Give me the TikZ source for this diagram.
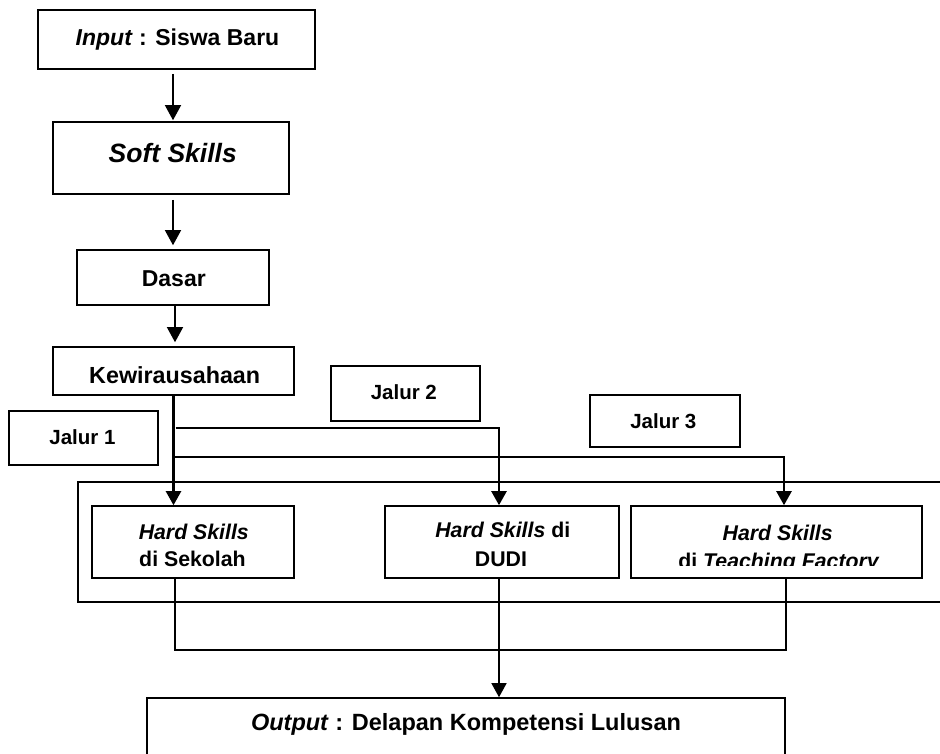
\documentclass[tikz,border=0pt]{standalone}
\usepackage{fontspec}
\setmainfont{Liberation Sans}
\usetikzlibrary{arrows.meta}
\begin{document}
\begin{tikzpicture}[x=1pt,y=-1pt,
  box/.style={draw, line width=1.6pt, inner sep=0pt},
  bigframe/.style={draw, line width=2.2pt, inner sep=0pt},
  thinline/.style={line width=1.4pt},
  thickline/.style={line width=2.3pt},
  tip/.style={-{Triangle[width=16pt,length=15pt]}},
  smalltip/.style={-{Triangle[width=15pt,length=14pt]}},
  txt/.style={inner sep=0pt, anchor=base},
  fa/.style={font=\fontsize{23}{27}\selectfont\bfseries},
  fsoft/.style={font=\fontsize{26.5}{30}\selectfont\bfseries},
  fk/.style={font=\fontsize{23.3}{27}\selectfont\bfseries},
  fj/.style={font=\fontsize{20.5}{24}\selectfont\bfseries},
  fh/.style={font=\fontsize{21.3}{25}\selectfont\bfseries},
  fo/.style={font=\fontsize{23.5}{27}\selectfont\bfseries}]
\useasboundingbox (0,0) rectangle (940,753);

% frame around the three hard-skills boxes
\node[bigframe, minimum width=882pt, minimum height=120pt] (frame) at (519,542) {};

% boxes
\node[box, minimum width=277pt, minimum height=59pt] (input) at (176.5,39.5) {};
\node[box, minimum width=236pt, minimum height=72pt] (soft) at (171,158) {};
\node[box, minimum width=192pt, minimum height=55pt] (dasar) at (173,277.5) {};
\node[box, minimum width=241pt, minimum height=48pt] (kewir) at (173.5,371) {};
\node[box, minimum width=149pt, minimum height=55pt] (jalur2) at (405.5,393.5) {};
\node[box, minimum width=149pt, minimum height=54pt] (jalur1) at (83.5,438) {};
\node[box, minimum width=150pt, minimum height=52pt] (jalur3) at (665,421) {};
\node[box, minimum width=202pt, minimum height=72pt] (sekolah) at (193,542) {};
\node[box, minimum width=234pt, minimum height=72pt] (dudi) at (502,542) {};
\node[box, minimum width=291pt, minimum height=72pt] (tf) at (776.5,542) {};
\node[box, minimum width=638pt, minimum height=80pt] (output) at (466,738) {};

% texts
\node[txt, fa] (tinput) at (177.5,45) {\textit{Input} : Siswa Baru};
\node[txt, fsoft] (tsoft) at (172.7,162) {\textit{Soft Skills}};
\node[txt, fa] (tdasar) at (173.8,286) {Dasar};
\node[txt, fk] (tkewir) at (174.7,383.3) {Kewirausahaan};
\node[txt, fj] (tj2) at (403.8,399.3) {Jalur 2};
\node[txt, fj] (tj1) at (82.5,444) {Jalur 1};
\node[txt, fj] (tj3) at (663.3,428.3) {Jalur 3};
\node[txt, fh] (ts1) at (193.8,539.3) {\textit{Hard Skills}};
\node[txt, fh] (ts2) at (192.5,566.7) {di Sekolah};
\node[txt, fh] (td1) at (502.8,537.3) {\textit{Hard Skills} di};
\node[txt, fh] (td2) at (501,566.7) {DUDI};
\node[txt, fh] (tt1) at (777.7,540) {\textit{Hard Skills}};
\begin{scope}
  \clip (631,506) rectangle (922,565.5);
  \node[txt, fh] (tt2) at (779,568) {di \textit{Teaching Factory}};
\end{scope}
\node[txt, fo] (tout) at (466,730) {\textit{Output} : Delapan Kompetensi Lulusan};

% connectors
\draw[thinline, tip] ([xshift=-3.5pt,yshift=-4pt]input.south) -- ([xshift=2pt,yshift=1pt]soft.north);
\draw[thinline, tip] ([xshift=2pt,yshift=-5pt]soft.south) -- ([xshift=0pt,yshift=4pt]dasar.north);
\draw[thinline, tip] ([xshift=2pt]dasar.south) -- ([xshift=1.5pt,yshift=4pt]kewir.north);
\draw[thickline, smalltip] (kewir.south) -- (kewir.south |- sekolah.north);
\draw[thickline, smalltip] ([xshift=2pt,yshift=-32pt]kewir.south) -| ([xshift=-3pt]dudi.north);
\draw[thickline, smalltip] ([yshift=-61pt]kewir.south) -| ([xshift=7.5pt]tf.north);
\draw[thickline] ([xshift=-18pt]sekolah.south) |- ([xshift=9.5pt,yshift=-71pt]tf.south) -- ([xshift=9.5pt]tf.south);
\draw[thinline, smalltip] ([xshift=-3pt]dudi.south) -- ([xshift=-3pt]dudi.south |- output.north);
\end{tikzpicture}
\end{document}
